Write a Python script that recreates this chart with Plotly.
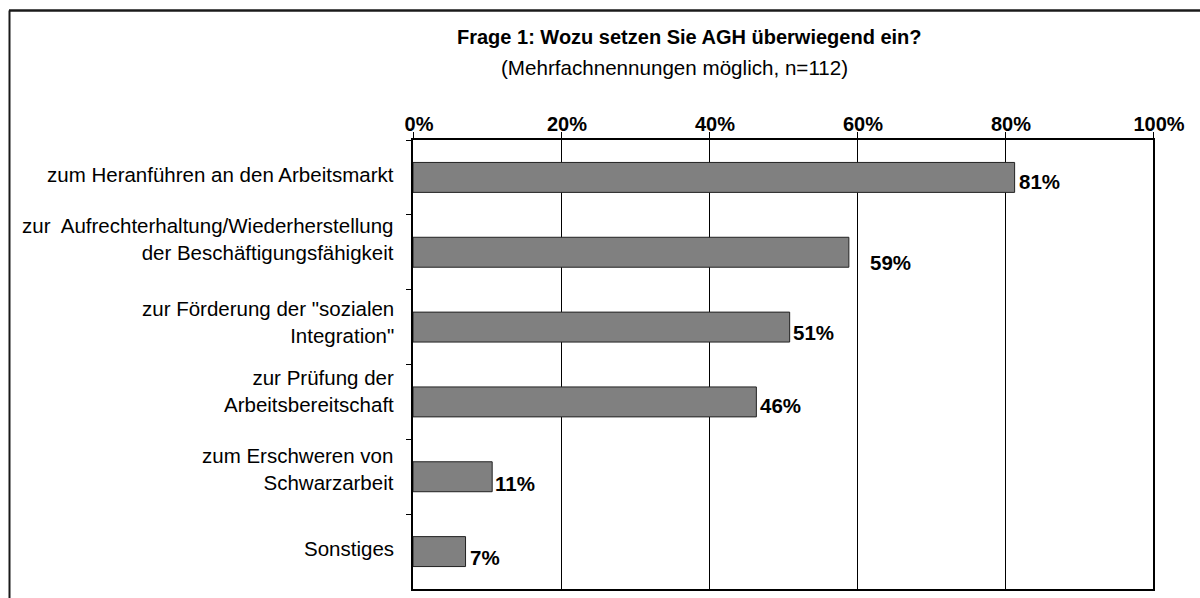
import plotly.graph_objects as go

categories = [
    "zum Heranführen an den Arbeitsmarkt",
    "zur  Aufrechterhaltung/Wiederherstellung<br>der Beschäftigungsfähigkeit",
    "zur Förderung der \"sozialen<br>Integration\"",
    "zur Prüfung der<br>Arbeitsbereitschaft",
    "zum Erschweren von<br>Schwarzarbeit",
    "Sonstiges",
]
values = [81.3, 58.9, 50.9, 46.4, 10.7, 7.1]
value_labels = ["81%", "59%", "51%", "46%", "11%", "7%"]
tick_values = [0, 20, 40, 60, 80, 100]
tick_labels = ["0%", "20%", "40%", "60%", "80%", "100%"]

title_text = "<b>Frage 1: Wozu setzen Sie AGH überwiegend ein?</b>"
subtitle_text = "(Mehrfachnennungen möglich, n=112)"

# per-label fine offsets (px) to mimic the original layout
label_yshift = [3, 13, 5.5, 10.5, 8, 3]
value_xshift = [2, 19, 1, 2, 1, 2]
value_yshift = [-4, -10, -5, -4, -7, -6]

FONT = "Liberation Sans, Arial, sans-serif"

fig = go.Figure()
fig.add_trace(go.Bar(
    x=values,
    y=categories,
    orientation="h",
    width=0.4,
    marker=dict(color="#808080", line=dict(color="#222222", width=1)),
    hoverinfo="skip",
))

annotations = []
for c, v, t, xs, ys in zip(categories, values, value_labels, value_xshift, value_yshift):
    annotations.append(dict(
        x=v, y=c, xref="x", yref="y", text="<b>" + t + "</b>", showarrow=False,
        xanchor="left", yanchor="middle", xshift=xs, yshift=ys,
        font=dict(family=FONT, size=20.5, color="black"),
    ))
for c, ys in zip(categories, label_yshift):
    annotations.append(dict(
        x=0, y=c, xref="paper", yref="y", text=c, showarrow=False,
        xanchor="right", yanchor="middle", align="right", xshift=-17, yshift=ys,
        font=dict(family=FONT, size=20.5, color="black"),
    ))

# plot area in px: x 413..1153, y 140..591
W, H = 740.0, 451.0
annotations.append(dict(
    x=(689 - 413) / W, y=1 + (140 - 37) / H, xref="paper", yref="paper",
    text=title_text, showarrow=False, xanchor="center", yanchor="middle",
    font=dict(family=FONT, size=20, color="black"),
))
annotations.append(dict(
    x=(674 - 413) / W, y=1 + (140 - 67) / H, xref="paper", yref="paper",
    text=subtitle_text, showarrow=False, xanchor="center", yanchor="middle",
    font=dict(family=FONT, size=20.6, color="black"),
))

shapes = [
    # outer frame: top and left lines
    dict(type="line", xref="paper", yref="paper",
         x0=(9 - 413) / W, x1=(1205 - 413) / W, y0=1 + (140 - 10) / H, y1=1 + (140 - 10) / H,
         line=dict(color="#1a1a1a", width=2.5)),
    dict(type="line", xref="paper", yref="paper",
         x0=(9.5 - 413) / W, x1=(9.5 - 413) / W, y0=1 + (140 - 10) / H, y1=1 + (140 - 605) / H,
         line=dict(color="#1a1a1a", width=2)),
]

fig.update_layout(
    width=1200, height=598,
    margin=dict(l=413, r=47, t=140, b=7),
    paper_bgcolor="white", plot_bgcolor="white",
    showlegend=False,
    annotations=annotations,
    shapes=shapes,
    bargap=0.6,
    xaxis=dict(
        side="top", range=[0, 100],
        tickvals=tick_values, ticktext=tick_labels,
        tickfont=dict(family=FONT, size=20, color="black", weight="bold"),
        ticks="outside", ticklen=6, tickcolor="black", tickwidth=1,
        ticklabelstandoff=-7, ticklabelshift=6,
        showgrid=True, gridcolor="black", gridwidth=1,
        showline=True, linecolor="black", linewidth=2, mirror=True,
        zeroline=False, fixedrange=True,
    ),
    yaxis=dict(
        autorange="reversed", type="category",
        showticklabels=False,
        ticks="outside", ticklen=5, tickcolor="black", tickwidth=1,
        tickson="boundaries",
        showgrid=False,
        showline=True, linecolor="black", linewidth=2, mirror=True,
        zeroline=False, fixedrange=True,
    ),
)

fig.write_html(
    "out.html",
    config={"displayModeBar": False},
    post_script="document.body.style.margin='0';document.body.style.padding='0';document.body.style.overflow='hidden';",
)
